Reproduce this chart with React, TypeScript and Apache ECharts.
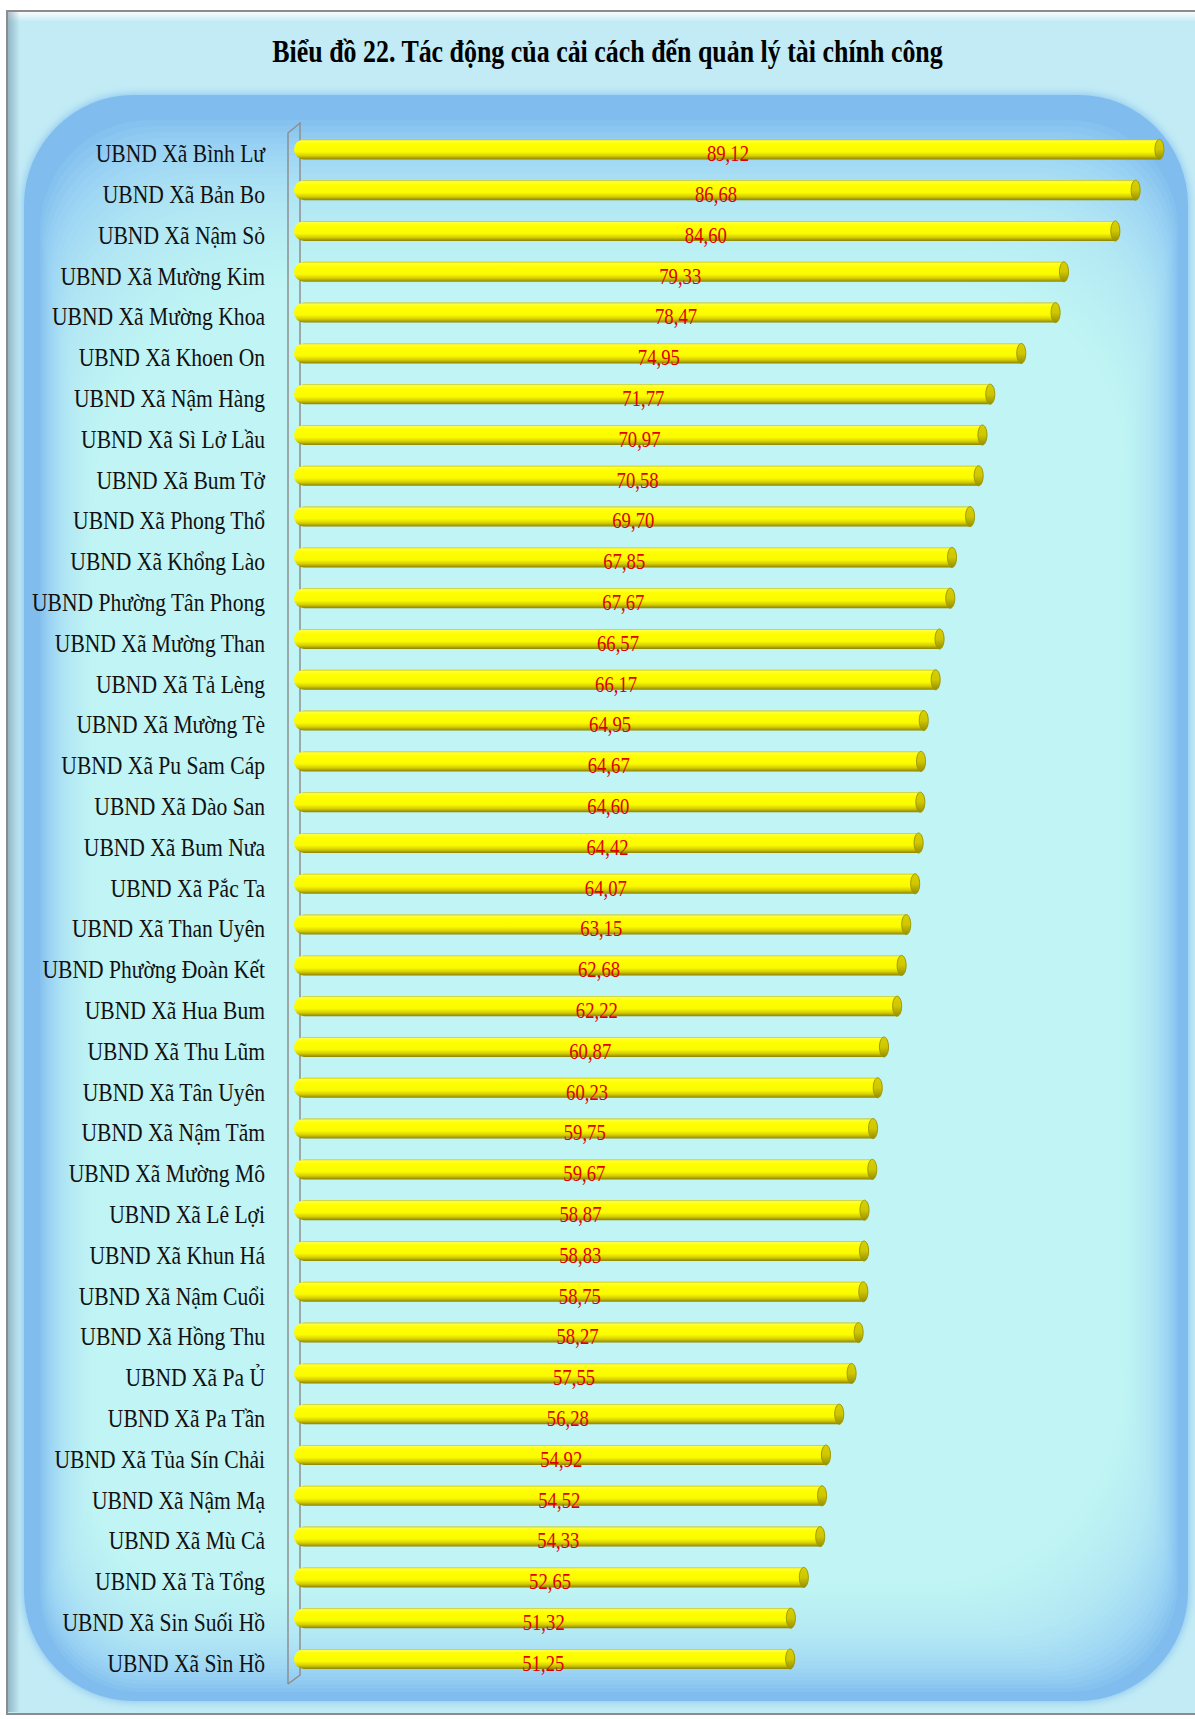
import React, { useEffect, useRef } from 'react';
import * as echarts from 'echarts';

const titleText = 'Biểu đồ 22. Tác động của cải cách đến quản lý tài chính công';

const categories = [
  'UBND Xã Bình Lư', 'UBND Xã Bản Bo', 'UBND Xã Nậm Sỏ', 'UBND Xã Mường Kim', 'UBND Xã Mường Khoa',
  'UBND Xã Khoen On', 'UBND Xã Nậm Hàng', 'UBND Xã Sì Lở Lầu', 'UBND Xã Bum Tở', 'UBND Xã Phong Thổ',
  'UBND Xã Khổng Lào', 'UBND Phường Tân Phong', 'UBND Xã Mường Than', 'UBND Xã Tả Lèng', 'UBND Xã Mường Tè',
  'UBND Xã Pu Sam Cáp', 'UBND Xã Dào San', 'UBND Xã Bum Nưa', 'UBND Xã Pắc Ta', 'UBND Xã Than Uyên',
  'UBND Phường Đoàn Kết', 'UBND Xã Hua Bum', 'UBND Xã Thu Lũm', 'UBND Xã Tân Uyên', 'UBND Xã Nậm Tăm',
  'UBND Xã Mường Mô', 'UBND Xã Lê Lợi', 'UBND Xã Khun Há', 'UBND Xã Nậm Cuổi', 'UBND Xã Hồng Thu',
  'UBND Xã Pa Ủ', 'UBND Xã Pa Tần', 'UBND Xã Tủa Sín Chải', 'UBND Xã Nậm Mạ', 'UBND Xã Mù Cả',
  'UBND Xã Tà Tổng', 'UBND Xã Sin Suối Hồ', 'UBND Xã Sìn Hồ',
];

const values = [
  89.12, 86.68, 84.6, 79.33, 78.47,
  74.95, 71.77, 70.97, 70.58, 69.7,
  67.85, 67.67, 66.57, 66.17, 64.95,
  64.67, 64.6, 64.42, 64.07, 63.15,
  62.68, 62.22, 60.87, 60.23, 59.75,
  59.67, 58.87, 58.83, 58.75, 58.27,
  57.55, 56.28, 54.92, 54.52, 54.33,
  52.65, 51.32, 51.25,
];

const xMin = 0;
const xMax = 90;

const fmt = (v: number) => v.toFixed(2).replace('.', ',');

function buildBackground(): any[] {
  const els: any[] = [];
  els.push({
    type: 'rect',
    z: -10,
    shape: { x: 7, y: 11, width: 1195, height: 1703 },
    style: { fill: '#c2ebf5', stroke: '#8c8c8c', lineWidth: 2 },
  });
  els.push({
    type: 'rect',
    z: -10,
    shape: { x: 8, y: 12, width: 1190, height: 10 },
    style: {
      fill: new echarts.graphic.LinearGradient(0, 0, 0, 1, [
        { offset: 0, color: 'rgba(255,255,255,0.9)' },
        { offset: 1, color: 'rgba(255,255,255,0)' },
      ]),
    },
  });
  els.push({
    type: 'rect',
    z: -10,
    shape: { x: 8, y: 12, width: 12, height: 1700 },
    style: {
      fill: new echarts.graphic.LinearGradient(0, 0, 1, 0, [
        { offset: 0, color: 'rgba(110,140,160,0.55)' },
        { offset: 1, color: 'rgba(110,140,160,0)' },
      ]),
    },
  });
  els.push({
    type: 'rect',
    z: -10,
    shape: { x: 24, y: 95, width: 1164, height: 1606, r: 110 },
    style: { fill: '#80bdee', shadowBlur: 10, shadowColor: '#80bdee' },
  });
  const n = 40;
  for (let k = 0; k < n; k++) {
    const t = k / (n - 1);
    const l = 40 + t * 75;
    const tp = 120 + t * 230;
    const r = 1178 - t * 75;
    const b = 1692 - t * 150;
    els.push({
      type: 'rect',
      z: -10,
      shape: {
        x: l,
        y: tp,
        width: r - l,
        height: b - tp,
        r: [110 + t * 150, 110 + t * 90, 110 + t * 130, 100],
      },
      style: { fill: '#c9fbfe', opacity: 0.078 },
    });
  }
  // axis wall
  els.push({
    type: 'polyline',
    z: -5,
    shape: { points: [[288, 1684], [288, 133], [300, 123], [300, 1675], [288, 1684]] },
    style: { stroke: '#8f8f8f', lineWidth: 1.5, fill: null },
  });
  els.push({
    type: 'text',
    z: 10,
    x: 607.5,
    y: 51,
    scaleX: 0.81,
    style: {
      text: titleText,
      font: 'bold 32px "Liberation Serif"',
      fill: '#000000',
      align: 'center',
      verticalAlign: 'middle',
      textAlign: 'center',
      textVerticalAlign: 'middle',
    },
  });
  return els;
}

const barGradient = () =>
  new echarts.graphic.LinearGradient(0, 0, 0, 1, [
    { offset: 0, color: '#c9c200' },
    { offset: 0.07, color: '#ffff40' },
    { offset: 0.22, color: '#ffff00' },
    { offset: 0.62, color: '#fbfb00' },
    { offset: 0.82, color: '#d6ce00' },
    { offset: 1, color: '#8a8300' },
  ]);

const capGradient = () =>
  new echarts.graphic.LinearGradient(0, 0, 0, 1, [
    { offset: 0, color: '#d8d000' },
    { offset: 0.5, color: '#cfc700' },
    { offset: 1, color: '#958e00' },
  ]);

export default function App() {
  const ref = useRef<HTMLDivElement>(null);
  useEffect(() => {
    if (!ref.current) return;
    const chart = echarts.init(ref.current, null, { renderer: 'svg' });
    const BAR_H = 20;
    chart.setOption({
      animation: false,
      grid: { left: 295, top: 129, width: 877.5, height: 1550.4 },
      xAxis: { type: 'value', min: xMin, max: xMax, show: false },
      yAxis: { type: 'category', data: categories, inverse: true, show: false },
      graphic: buildBackground(),
      series: [
        {
          type: 'custom',
          clip: false,
          data: values.map((v, i) => [v, i]),
          encode: { x: 0, y: 1 },
          renderItem: (params: any, api: any) => {
            const v = api.value(0) as number;
            const i = api.value(1) as number;
            const p0 = api.coord([0, i]);
            const p1 = api.coord([v, i]);
            const cy = p0[1];
            const x0 = p0[0] - 1;
            const x1 = p1[0];
            const capR = 4.5;
            return {
              type: 'group',
              children: [
                {
                  type: 'rect',
                  shape: { x: x0, y: cy - BAR_H / 2, width: x1 - capR - x0, height: BAR_H, r: [10, 0, 0, 10] },
                  style: { fill: barGradient() },
                },
                {
                  type: 'ellipse',
                  shape: { cx: x1 - capR, cy, rx: capR, ry: BAR_H / 2 },
                  style: { fill: capGradient(), stroke: '#a09900', lineWidth: 1 },
                },
                {
                  type: 'text',
                  x: (x0 + x1) / 2 - 1,
                  y: cy + 4,
                  scaleX: 0.78,
                  style: {
                    text: fmt(v),
                    font: '24px "Liberation Serif"',
                    fill: '#dd0000',
                    align: 'center',
                    verticalAlign: 'middle',
                    textAlign: 'center',
                    textVerticalAlign: 'middle',
                  },
                },
                {
                  type: 'text',
                  x: p0[0] - 30,
                  y: cy + 4,
                  scaleX: 0.83,
                  style: {
                    text: categories[i],
                    font: '26px "Liberation Serif"',
                    fill: '#111111',
                    align: 'right',
                    verticalAlign: 'middle',
                    textAlign: 'right',
                    textVerticalAlign: 'middle',
                  },
                },
              ],
            };
          },
        },
      ],
    });
    return () => chart.dispose();
  }, []);
  return (
    <div
      ref={ref}
      style={{ position: 'absolute', left: 0, top: 0, width: 1195, height: 1719 }}
    />
  );
}
